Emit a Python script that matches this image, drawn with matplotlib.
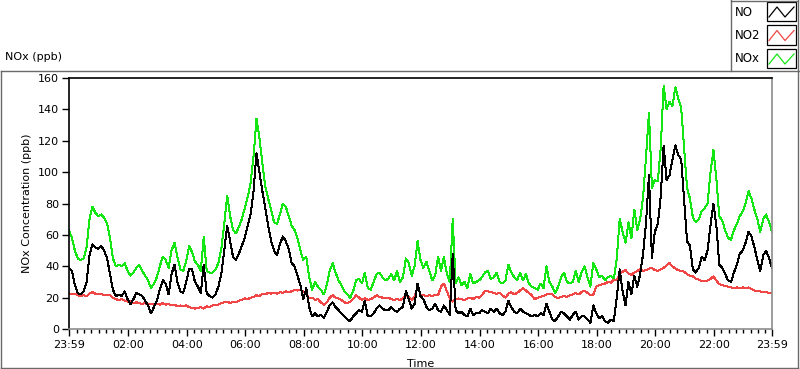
import numpy as np
import matplotlib
matplotlib.use("Agg")
import matplotlib.pyplot as plt
from matplotlib.lines import Line2D
from matplotlib.patches import Rectangle

# one reading every 6 minutes, starting 23:59 of the previous day
minutes = np.arange(0, 1441, 6)

no_ppb = [
    39, 37, 28, 23, 22, 24, 30, 47, 54, 52,
    51, 53, 50, 45, 35, 25, 21, 22, 21, 24,
    19, 16, 19, 23, 22, 21, 18, 15, 10, 14,
    18, 25, 31, 29, 22, 35, 41, 30, 24, 23,
    30, 38, 38, 30, 27, 23, 41, 23, 21, 20,
    22, 27, 35, 50, 66, 56, 46, 44, 48, 53,
    58, 66, 73, 88, 112, 100, 88, 77, 66, 56,
    50, 47, 54, 59, 56, 51, 42, 40, 34, 28,
    19, 26, 14, 8, 10, 8, 9, 7, 11, 15,
    17, 14, 12, 10, 8, 6, 5, 8, 10, 12,
    11, 18, 8, 8, 10, 13, 15, 13, 12, 12,
    14, 12, 11, 13, 14, 24, 19, 13, 16, 29,
    21, 19, 14, 12, 13, 16, 12, 11, 15, 12,
    9, 48, 12, 10, 11, 9, 8, 13, 9, 10,
    10, 12, 11, 10, 13, 11, 13, 10, 9, 11,
    18, 14, 11, 10, 13, 11, 10, 9, 8, 9,
    8, 10, 9, 16, 11, 6, 5, 8, 11, 10,
    8, 6, 9, 11, 6, 8, 8, 6, 4, 15,
    10, 7, 8, 5, 4, 6, 5, 20, 38, 24,
    15, 30, 22, 34, 27, 35, 48, 68, 98, 45,
    62, 67, 84, 117, 95, 98, 108, 117, 111, 108,
    82, 56, 53, 38, 36, 39, 46, 44, 50, 66,
    80, 66, 41, 39, 35, 31, 30, 36, 41, 48,
    50, 55, 62, 59, 52, 44, 37, 47, 50, 45,
    39,
]

no2_ppb = [
    22.7, 22, 22.5, 21.5, 21, 21.5, 21, 22.5, 23.5, 22.5,
    22, 22.5, 21.5, 22, 21.5, 20, 19, 18.5, 19, 18,
    17.5, 18, 16.5, 17, 16.5, 16, 16.5, 15.5, 16, 15.5,
    16, 15.5, 16.5, 15.5, 16, 15, 15.5, 14.5, 15, 14.5,
    15, 14, 13.5, 13, 13.5, 14, 13, 14.5, 14, 15,
    15, 15.5, 16.5, 17, 17.5, 16.5, 17.5, 17, 18, 18.5,
    19.5, 19, 20, 20.5, 21.5, 21, 22.5, 22, 23, 22.5,
    23, 22.5, 23.5, 23, 24, 23.5, 24, 25, 24.5, 25,
    24, 22, 19.5, 20, 18.5, 19, 17, 15.5, 17, 20,
    21.5, 20, 19.5, 18.5, 17, 16.5, 17.5, 19, 21.5, 20,
    18.5, 19.5, 18.5, 19, 20, 21.5, 20.5, 20, 19.5, 20,
    19, 18.5, 19, 18.5, 19.5, 21.5, 20.5, 18.5, 21, 27,
    22, 21.5, 21, 21.5, 21, 22, 21.5, 27, 29, 24,
    19.5, 17.5, 19, 19.5, 19, 18.5, 19.5, 20, 19, 20.5,
    20, 21.5, 24.5, 24, 23.5, 23, 22.5, 23, 21.5, 20,
    22.5, 23.5, 22, 23, 24.5, 26, 24.5, 23, 21.5, 19,
    20, 20.5, 21, 22, 22.5, 22, 20.5, 19.5, 20.5, 21,
    20.5, 21.5, 22, 23, 22, 23.5, 24.5, 23, 21.5, 22,
    27, 28, 28.5, 29, 30, 29.5, 31.5, 31, 35, 36.5,
    37.5, 35.5, 34.5, 36, 37, 38, 37, 37.5, 38.5, 39,
    37.5, 37, 38, 39, 40.5, 42, 40, 38.5, 37.5, 37,
    36.5, 35, 34, 33.5, 32, 31.5, 30.5, 30.5, 31, 32,
    33.5, 31, 28.5, 28, 27.5, 27, 26.5, 26, 26.5, 26,
    26.5, 26, 26.5, 25.5, 24.5, 24, 24, 23.5, 23.5, 23,
    23,
]

nox_ppb = [
    63, 58, 50, 45, 44, 45, 52, 70, 78, 74,
    72, 73, 71, 67, 58, 45, 40, 41, 40, 42,
    37, 34, 36, 39, 41, 37, 34, 31, 26, 29,
    33, 40, 46, 44, 39, 50, 55, 46, 38, 37,
    43, 53, 49, 43, 41, 37, 59, 37, 36, 36,
    38, 42, 51, 67, 85, 72, 63, 61, 65, 70,
    77, 84, 93, 110, 134, 122, 106, 91, 83, 76,
    68, 67, 73, 80, 78, 72, 66, 63, 58, 50,
    44, 46, 33, 25, 30, 27, 25, 22, 28, 37,
    42, 36, 31, 28, 24, 22, 20, 24, 31, 32,
    29, 36, 26, 25, 30, 35, 36, 33, 31, 32,
    35, 31, 37, 30, 33, 45, 42, 34, 40, 56,
    44, 39, 43, 37, 31, 34, 46, 37, 46, 35,
    30, 70, 29, 33, 28, 30, 26, 35, 29, 30,
    31, 33, 36, 37, 32, 33, 36, 30, 29, 31,
    41, 36, 33, 31, 36, 31, 35, 29, 27, 26,
    25, 29, 26, 40, 30, 27, 23, 27, 33, 36,
    30, 29, 30, 37, 30, 36, 40, 33, 27, 42,
    38, 33, 34, 31, 33, 34, 32, 45, 70, 62,
    55, 68, 58, 76, 63, 70, 84, 110, 138, 90,
    95, 94, 115, 155, 140, 145, 142, 154, 147, 141,
    115, 90, 83, 71, 68, 70, 75, 77, 80, 100,
    114, 96, 72, 69, 63, 58, 57, 63, 67, 72,
    75, 80, 88, 83, 76, 70, 62, 70, 73, 68,
    62,
]

series_names = ["NO", "NO2", "NOx"]
series_colors = ["black", "#f04646", "#14e614"]

tick_pos = [0, 121, 241, 361, 481, 601, 721, 841, 961, 1081, 1201, 1321, 1440]
tick_labels = ["23:59", "02:00", "04:00", "06:00", "08:00", "10:00", "12:00",
               "14:00", "16:00", "18:00", "20:00", "22:00", "23:59"]

W, H = 800, 369


def px(x, y):
    return x / W, 1 - y / H


fig = plt.figure(figsize=(8, 3.69), dpi=100)
ax = fig.add_axes([69 / W, 1 - 329 / H, 703 / W, 251 / H])

# LabVIEW draws 1px aliased traces
ax.plot(minutes, nox_ppb, color=series_colors[2], lw=0.72, antialiased=False)
ax.plot(minutes, no2_ppb, color=series_colors[1], lw=0.72, antialiased=False)
ax.plot(minutes, no_ppb, color=series_colors[0], lw=0.72, antialiased=False)

ax.set_xlim(0, 1440)
ax.set_ylim(0, 160)
ax.set_yticks(range(0, 161, 20))
ax.set_xticks(tick_pos)
ax.set_xticklabels(tick_labels)
ax.set_xticks([1 + 15 * k for k in range(1, 96)], minor=True)
ax.tick_params(axis="both", labelsize=8, colors="black", width=1)
ax.tick_params(axis="y", length=5, pad=2)
ax.tick_params(axis="x", which="major", length=5, pad=3)
ax.tick_params(axis="x", which="minor", length=3, width=1)

for side in ["left", "top"]:
    ax.spines[side].set_color("black")
for side in ["right", "bottom"]:
    ax.spines[side].set_color("#8c8c8c")
for s in ax.spines.values():
    s.set_linewidth(1.2)

ax.set_ylabel("NOx Concentration (ppb)", fontsize=8)
ax.yaxis.set_label_coords(-0.052, 0.5)
ax.set_xlabel("Time", fontsize=8)
ax.xaxis.set_label_coords(0.5, -0.12)

# outer frame
frame = "#6a6a6a"
fig.add_artist(Line2D(*zip(px(0.5, 70.5), px(799, 70.5)), transform=fig.transFigure, color=frame, lw=1))
fig.add_artist(Line2D(*zip(px(1, 70.5), px(1, 367.5)), transform=fig.transFigure, color=frame, lw=1))
fig.add_artist(Line2D(*zip(px(1, 367.5), px(797.5, 367.5)), transform=fig.transFigure, color=frame, lw=1))
fig.add_artist(Line2D(*zip(px(797.5, 70.5), px(797.5, 367.5)), transform=fig.transFigure, color=frame, lw=1))

fig.text(*px(5, 57), "NOx (ppb)", fontsize=8, va="center", ha="left")

# legend box
fig.add_artist(Line2D(*zip(px(730.5, 0), px(730.5, 70.5)), transform=fig.transFigure, color=frame, lw=1))
fig.add_artist(Line2D(*zip(px(730.5, 0.5), px(797.5, 0.5)), transform=fig.transFigure, color=frame, lw=1))
fig.add_artist(Line2D(*zip(px(797.5, 0), px(797.5, 70.5)), transform=fig.transFigure, color=frame, lw=1))
for i, (name, col) in enumerate(zip(series_names, series_colors)):
    y0 = 2 + 23.5 * i
    fig.text(*px(735, y0 + 10), name, fontsize=8.5, va="center", ha="left")
    x0, y0b = px(766.5, y0 + 19)
    x1, y1 = px(795.5, y0)
    fig.add_artist(Rectangle((x0, y0b), x1 - x0, y1 - y0b, transform=fig.transFigure,
                             fill=False, ec="black", lw=0.9))
    zx = [769, 777, 785, 794]
    zy = [y0 + 15, y0 + 5, y0 + 15, y0 + 5]
    pts = [px(a, b) for a, b in zip(zx, zy)]
    fig.add_artist(Line2D([p[0] for p in pts], [p[1] for p in pts],
                          transform=fig.transFigure, color=col, lw=0.9))

fig.savefig("out.png", dpi=100)
